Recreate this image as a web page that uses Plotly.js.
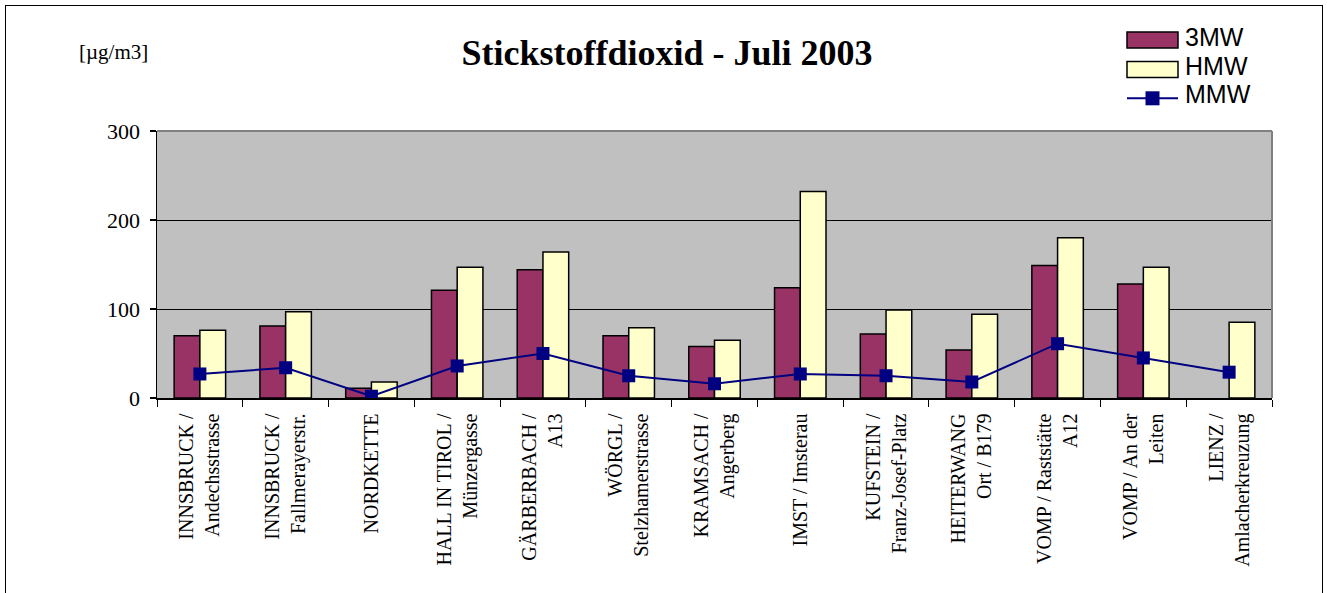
<!DOCTYPE html>
<html>
<head>
<meta charset="utf-8">
<script src="https://cdn.plot.ly/plotly-3.0.1.min.js"></script>
<style>
  html, body { margin: 0; padding: 0; background: #fff; overflow: hidden; }
  #frame { position: absolute; left: 5px; top: 5px; width: 1316px; height: 640px; border: 1.5px solid #000; pointer-events: none; }
  #chart { position: absolute; left: 0; top: 0; width: 1327px; height: 593px; }
</style>
</head>
<body>
<div id="chart"></div>
<div id="frame"></div>
<script>
const categories = [
  'INNSBRUCK /<br>Andechsstrasse',
  'INNSBRUCK /<br>Fallmerayerstr.',
  'NORDKETTE',
  'HALL IN TIROL /<br>Münzergasse',
  'GÄRBERBACH /<br>A13',
  'WÖRGL /<br>Stelzhamerstrasse',
  'KRAMSACH /<br>Angerberg',
  'IMST / Imsterau',
  'KUFSTEIN /<br>Franz-Josef-Platz',
  'HEITERWANG<br>Ort / B179',
  'VOMP / Raststätte<br>A12',
  'VOMP / An der<br>Leiten',
  'LIENZ /<br>Amlacherkreuzung'
];
const values3MW = [70, 81, 11, 121, 144, 70, 58, 124, 72, 54, 149, 128, null];
const valuesHMW = [76, 97, 18, 147, 164, 79, 65, 232, 99, 94, 180, 147, 85];
const valuesMMW = [27, 34, 2, 36, 50, 25, 16, 27, 25, 18, 61, 45, 29];
const seriesNames = ['3MW', 'HMW', 'MMW'];
const seriesColors = ['#993366', '#FFFFCC', '#000080'];
const yTicks = [0, 100, 200, 300];
const titleText = 'Stickstoffdioxid - Juli 2003';
const unitText = '[µg/m3]';

const serif = '"Liberation Serif", "Times New Roman", serif';
const sans = '"Liberation Sans", Arial, sans-serif';

const W = 1327, H = 593;
const M = { l: 157, r: 55, t: 131, b: 195 };
const plotW = W - M.l - M.r, plotH = H - M.t - M.b;
// pixel -> paper helpers (for placing decorations)
const px = x => (x - M.l) / plotW;
const py = y => (H - M.b - y) / plotH;

const traces = [
  { type: 'bar', name: seriesNames[0], x: categories, y: values3MW, showlegend: false,
    marker: { color: seriesColors[0], line: { color: '#000', width: 1.5 } } },
  { type: 'bar', name: seriesNames[1], x: categories, y: valuesHMW, showlegend: false,
    marker: { color: seriesColors[1], line: { color: '#000', width: 1.5 } } },
  { type: 'scatter', mode: 'lines+markers', name: seriesNames[2], x: categories, y: valuesMMW, showlegend: false,
    line: { color: seriesColors[2], width: 2 },
    marker: { symbol: 'square', size: 13, color: seriesColors[2] } }
];

// legend (drawn as shapes + text)
const legendRows = [40, 69.5, 98.3];
const legX0 = 1127, legX1 = 1178, legTextX = 1183;
const shapes = [
  { type: 'line', xref: 'paper', yref: 'paper', x0: 0, x1: 1, y0: 1, y1: 1, line: { color: '#808080', width: 2 } },
  { type: 'line', xref: 'paper', yref: 'paper', x0: 1, x1: 1, y0: 0, y1: 1, line: { color: '#808080', width: 2 } },
  { type: 'rect', xref: 'paper', yref: 'paper', x0: px(legX0), x1: px(legX1), y0: py(legendRows[0] - 8), y1: py(legendRows[0] + 8),
    fillcolor: seriesColors[0], line: { color: '#000', width: 1.5 } },
  { type: 'rect', xref: 'paper', yref: 'paper', x0: px(legX0), x1: px(legX1), y0: py(legendRows[1] - 8), y1: py(legendRows[1] + 8),
    fillcolor: seriesColors[1], line: { color: '#000', width: 1.5 } },
  { type: 'line', xref: 'paper', yref: 'paper', x0: px(legX0), x1: px(legX1), y0: py(legendRows[2]), y1: py(legendRows[2]),
    line: { color: seriesColors[2], width: 2 } },
  { type: 'rect', xref: 'paper', yref: 'paper', x0: px(1145.5), x1: px(1159.5), y0: py(legendRows[2] - 7), y1: py(legendRows[2] + 7),
    fillcolor: seriesColors[2], line: { color: seriesColors[2], width: 0 } }
];
const annotations = [
  { text: unitText, xref: 'paper', yref: 'paper', x: px(113), y: py(52), xanchor: 'center', yanchor: 'middle',
    showarrow: false, font: { family: serif, size: 21, color: '#000' } }
];
const textOffsets = [-3, -3, -4];
seriesNames.forEach((n, i) => {
  annotations.push({ text: n, xref: 'paper', yref: 'paper', x: px(legTextX), y: py(legendRows[i] + textOffsets[i]),
    xanchor: 'left', yanchor: 'middle', showarrow: false, font: { family: sans, size: 25, color: '#000' } });
});

const layout = {
  width: W, height: H,
  margin: M,
  paper_bgcolor: '#fff',
  plot_bgcolor: '#C0C0C0',
  showlegend: false,
  barmode: 'group', bargap: 0.40, bargroupgap: 0,
  title: { text: '<b>' + titleText + '</b>', font: { family: serif, size: 36, color: '#000' },
           x: px(667), xref: 'paper', xanchor: 'center', y: 1 - 52 / H, yref: 'container', yanchor: 'middle' },
  xaxis: {
    type: 'category', range: [-0.5, categories.length - 0.5], autorange: false,
    tickangle: -90, tickson: 'boundaries', ticks: 'outside', ticklen: 7,
    tickcolor: '#000', tickwidth: 1, showline: true, linecolor: '#000', linewidth: 1.5,
    showgrid: false, tickfont: { family: serif, size: 20, color: '#000' }, ticklabelstandoff: 6
  },
  yaxis: {
    range: [0, 300], autorange: false, tickvals: yTicks, ticks: 'outside', ticklen: 6, tickcolor: '#000', tickwidth: 1.5,
    showline: true, linecolor: '#000', linewidth: 1.5, showgrid: true, gridcolor: '#000', gridwidth: 1,
    zeroline: false, tickfont: { family: serif, size: 22, color: '#000' }, ticklabelstandoff: 5
  },
  shapes: shapes,
  annotations: annotations
};

Plotly.newPlot('chart', traces, layout, { displayModeBar: false, staticPlot: true });
</script>
</body>
</html>
